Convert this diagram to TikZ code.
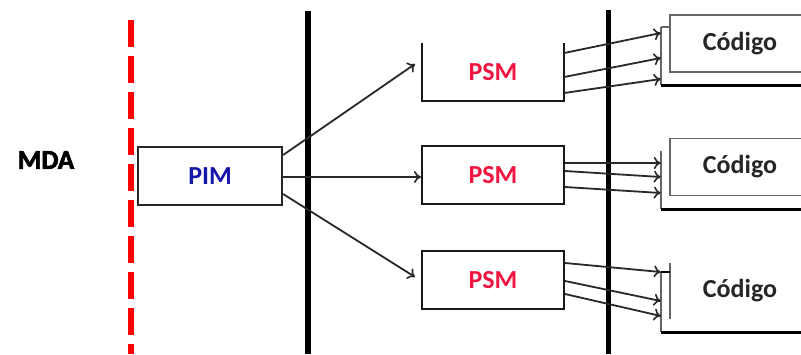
\documentclass[tikz,border=0pt]{standalone}
\usepackage{fontspec}
\setmainfont{Carlito}
\newfontfamily\mdafont{Carlito}[BoldFeatures={FakeBold=2.5}]
\usetikzlibrary{arrows.meta}
\definecolor{pimblue}{RGB}{22,22,170}
\definecolor{psmred}{RGB}{240,22,66}
\definecolor{arrgray}{RGB}{40,40,40}
\tikzset{
  lbl/.style={font=\fontsize{26}{30}\selectfont\bfseries, inner sep=0pt},
  mdalbl/.style={font=\mdafont\fontsize{27}{30}\selectfont\bfseries, inner sep=0pt},
  pimbox/.style={draw=black!85, line width=2.2pt, minimum width=144pt, minimum height=58pt, text=pimblue, lbl},
  psmbox/.style={minimum width=142pt, minimum height=58pt, text=psmred, lbl},
  psmline/.style={draw=black!90, line width=2pt},
  codin/.style={minimum width=140pt, minimum height=57pt, text=black!85, lbl},
  codline/.style={draw=black!60, line width=1.4pt},
  codout/.style={minimum width=149pt, minimum height=58pt, inner sep=0pt},
  codbot/.style={draw=black, line width=2.6pt},
  arr/.style={draw=arrgray, line width=1.8pt, -{To[length=7pt,width=12pt,line width=1.6pt]}},
  barline/.style={draw=black, line width=6pt},
  reddash/.style={draw=red, line width=6pt, dash pattern=on 27pt off 9pt}
}
\begin{document}
\begin{tikzpicture}[x=1pt,y=-1pt]
\clip (0,0) rectangle (801,354);
\useasboundingbox (0,0) rectangle (801,354);
\fill[white] (0,0) rectangle (801,354);

% divider lines
\coordinate (r1) at (131,20);
\coordinate (r2) at (131,354);
\draw[reddash] (r1) -- (r2);
\coordinate (b1) at (308,11);
\coordinate (b2) at (308,354);
\draw[barline] (b1) -- (b2);
\coordinate (b3) at (608,10);
\coordinate (b4) at (608,354);
\draw[barline, line width=5pt] (b3) -- (b4);

% MDA
\node[mdalbl, text=black] (mda) at (46,160) {MDA};

% PIM
\node[pimbox] (pim) at (210,176) {PIM};

% PSMs
\node[psmbox] (psm1) at (493,72) {PSM};
\draw[psmline] (psm1.north west) -- (psm1.south west) -- (psm1.south east) -- (psm1.north east);
\node[psmbox, draw=black!90, line width=2pt] (psm2) at (493,175) {PSM};
\node[psmbox, draw=black!90, line width=2pt] (psm3) at (493,280) {PSM};

% Codigo boxes
\node[codin, draw=black!60, line width=1.4pt] (c1) at (740,43.5) {Código};
\node[codout] (o1) at (735.5,56) {};
\draw[codline] (o1.north west) -- (o1.south west);
\draw[codline] (o1.north west) -- (c1.west |- o1.north);
\draw[codbot] (o1.south west) -- (o1.south east);

\node[codin, draw=black!60, line width=1.4pt] (c2) at (740,167) {Código};
\node[codout] (o2) at (735.5,180) {};
\draw[codline] (o2.north west) -- (o2.south west);
\draw[codbot] (o2.south west) -- (o2.south east);

\node[codin, minimum height=56pt] (c3) at (740,291) {Código};
\draw[codline] (c3.north west) -- (c3.south west);
\node[codout, minimum height=60pt] (o3) at (735.5,302) {};
\draw[codline] (o3.north west) -- (o3.south west);
\draw[codbot] (o3.north west) -- (c3.west |- o3.north);
\draw[codbot] (o3.south west) -- (o3.south east);

% PIM -> PSM arrows
\draw[arr] (pim.east |- 0,155) -- (415,64);
\draw[arr] (pim.east |- 0,177) -- (psm2.west |- 0,177);
\draw[arr] (pim.east |- 0,194) -- (415,277);

% PSM -> Codigo arrows
\draw[arr] (psm1.east |- 0,53) -- (o1.west |- 0,33);
\draw[arr] (psm1.east |- 0,77) -- (o1.west |- 0,58);
\draw[arr] (psm1.east |- 0,93) -- (o1.west |- 0,79);

\draw[arr] (psm2.east |- 0,163) -- (o2.west |- 0,163);
\draw[arr] (psm2.east |- 0,171) -- (o2.west |- 0,177);
\draw[arr] (psm2.east |- 0,187) -- (o2.west |- 0,193);

\draw[arr] (psm3.east |- 0,263) -- (o3.west |- 0,272);
\draw[arr] (psm3.east |- 0,281) -- (o3.west |- 0,301);
\draw[arr] (psm3.east |- 0,294) -- (o3.west |- 0,316);
\end{tikzpicture}
\end{document}
